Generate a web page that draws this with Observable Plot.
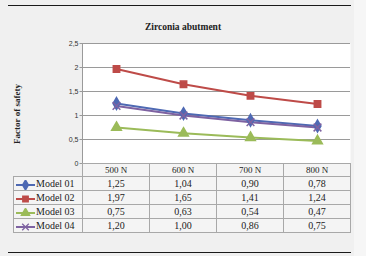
<!DOCTYPE html>
<html><head><meta charset="utf-8">
<script src="https://cdn.jsdelivr.net/npm/d3@7"></script>
<script src="https://cdn.jsdelivr.net/npm/@observablehq/plot@0.6"></script>
<style>
html,body{margin:0;padding:0;background:#f0f0f0;}
#wrap{position:relative;width:366px;height:256px;overflow:hidden;background:#f0f0f0;}
#rightstrip{position:absolute;left:354px;top:0;width:12px;height:256px;background:#f6f6f6;}
.hr{position:absolute;left:8px;width:343px;height:1px;background:#1a1a1a;}
#title{position:absolute;left:0;width:366px;top:22px;text-align:center;font:bold 9.5px "Liberation Serif","Times New Roman",serif;color:#222;}
#ylab{position:absolute;left:17px;top:114px;transform:translate(-50%,-50%) rotate(-90deg);white-space:nowrap;font:bold 9px "Liberation Serif","Times New Roman",serif;color:#222;}
#chart{position:absolute;left:0;top:0;}
#tbl{position:absolute;left:13px;top:163px;border-collapse:collapse;table-layout:fixed;color:#222;}
#tbl td{font-family:"Liberation Serif","Times New Roman",serif;border:1px solid #a8a8a8;background:#f4f4f4;text-align:center;padding:0;font-size:10px;height:13px;line-height:13px;overflow:hidden;white-space:nowrap;color:#222;}
#tbl tr.head td{font-size:9px;height:12px;line-height:12px;}
#tbl td.blank{border:none;background:transparent;}
#tbl td.leg{text-align:left;font-size:10px;}
#tbl td.leg svg{vertical-align:middle;margin:0 1px 0 2px;}
</style></head>
<body><div id="wrap"></div>
<script>
const categories = ["500 N","600 N","700 N","800 N"];
const seriesNames = ["Model 01","Model 02","Model 03","Model 04"];
const model01 = [1.25,1.04,0.90,0.78];
const model02 = [1.97,1.65,1.41,1.24];
const model03 = [0.75,0.63,0.54,0.47];
const model04 = [1.20,1.00,0.86,0.75];
const valueLabels = [
  ["1,25","1,04","0,90","0,78"],
  ["1,97","1,65","1,41","1,24"],
  ["0,75","0,63","0,54","0,47"],
  ["1,20","1,00","0,86","0,75"]
];
const yTicks = [0,0.5,1,1.5,2,2.5];
const yTickLabels = ["0","0,5","1","1,5","2","2,5"];
const colors = ["#4E69B3","#BE4B48","#9BBB59","#7E62A1"];
const symbols = ["diamond","square","triangle","times"];
const title = "Zirconia abutment";
const yLabel = "Factor of safety";

const seriesValues = [model01,model02,model03,model04];
const data = [];
seriesNames.forEach((s,i)=>categories.forEach((c,j)=>data.push({series:s,cat:c,v:seriesValues[i][j]})));

const wrap = document.getElementById("wrap");
wrap.insertAdjacentHTML("beforeend",`<div id="rightstrip"></div><div class="hr" style="top:5px"></div><div class="hr" style="top:252px"></div><div id="title">${title}</div><div id="ylab">${yLabel}</div>`);

const chart = Plot.plot({
  width:366, height:164,
  marginTop:43, marginBottom:1, marginLeft:82, marginRight:16,
  style:{background:"transparent", overflow:"visible"},
  x:{type:"point", domain:categories, padding:0.5, axis:null},
  y:{domain:[0,2.5], axis:null, label:null},
  color:{domain:seriesNames, range:colors},
  symbol:{domain:seriesNames, range:symbols},
  marks:[
    Plot.frame({fill:"white", stroke:null}),
    Plot.gridY(yTicks,{stroke:"#9a9a9a", strokeOpacity:1}),
    Plot.frame({anchor:"left", stroke:"#9a9a9a"}),
    Plot.axisY(yTicks,{label:null, tickSize:2.5, tickPadding:1.5, stroke:"#9a9a9a", fill:"#333", fontSize:7,
      fontFamily:"Liberation Sans, Arial, sans-serif", tickFormat:(d)=>yTickLabels[yTicks.indexOf(d)]}),
    Plot.line(data,{x:"cat", y:"v", z:"series", stroke:"series", strokeWidth:2}),
    Plot.dot(data,{x:"cat", y:"v", symbol:"series", fill:"series", stroke:"series", r:3.6, strokeWidth:1.5})
  ]
});
chart.id="chart";
wrap.appendChild(chart);

function swatch(i){
  const sym = d3.symbol().type({diamond:d3.symbolDiamond,square:d3.symbolSquare,triangle:d3.symbolTriangle,times:d3.symbolTimes}[symbols[i]]).size(30)();
  const filled = symbols[i] !== "times";
  return `<svg width="19" height="10"><line x1="0" y1="5" x2="19" y2="5" stroke="${colors[i]}" stroke-width="2"/><path transform="translate(9.5,5)" d="${sym}" fill="${filled?colors[i]:"none"}" stroke="${colors[i]}" stroke-width="1.3"/></svg>`;
}

let html = `<table id="tbl"><colgroup><col style="width:69px"><col style="width:67px"><col style="width:67px"><col style="width:67px"><col style="width:67px"></colgroup>`;
html += `<tr class="head"><td class="blank"></td>${categories.map(c=>`<td>${c}</td>`).join("")}</tr>`;
seriesNames.forEach((s,i)=>{
  html += `<tr><td class="leg">${swatch(i)}${s}</td>${valueLabels[i].map(v=>`<td>${v}</td>`).join("")}</tr>`;
});
html += `</table>`;
wrap.insertAdjacentHTML("beforeend",html);
</script></body></html>
